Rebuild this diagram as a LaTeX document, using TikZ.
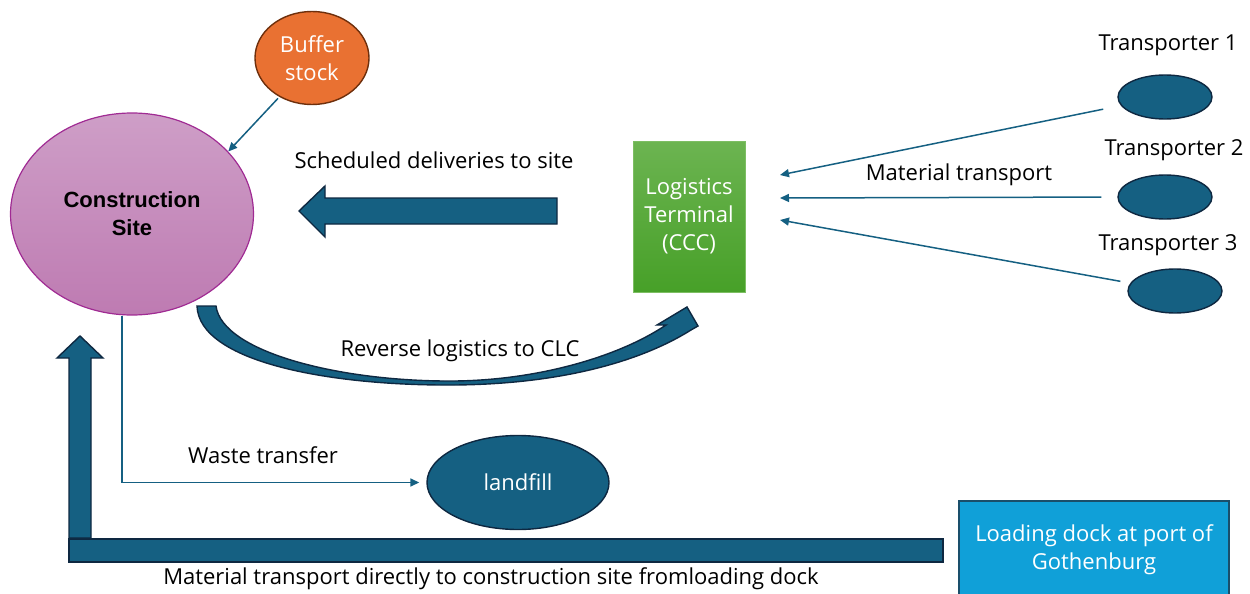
\documentclass[tikz,border=0pt]{standalone}
\usepackage{fontspec}
\setmainfont{Open Sans}
\newfontfamily\arialfont{Liberation Sans}
\usetikzlibrary{shapes.geometric,arrows.meta}
\definecolor{tealA}{HTML}{156082}
\definecolor{navyA}{HTML}{0E2841}
\definecolor{orangeA}{HTML}{E97132}
\definecolor{brownA}{HTML}{6E2F0C}
\definecolor{pinkTop}{HTML}{CE9EC7}
\definecolor{pinkBot}{HTML}{BE7BB2}
\definecolor{purpleA}{HTML}{A02B93}
\definecolor{greenTop}{HTML}{6CB451}
\definecolor{greenBot}{HTML}{47A028}
\definecolor{greenLine}{HTML}{7DBE63}
\definecolor{blueA}{HTML}{10A0D8}
\definecolor{blueLine}{HTML}{1A4F6B}
\begin{document}
\begin{tikzpicture}[x=0.5pt,y=-0.5pt,
  lbl/.style={font=\fontsize{11}{14}\selectfont, inner sep=0, text=black},
  wtxt/.style={font=\fontsize{11}{14}\selectfont, text=white, align=center},
  conn/.style={draw=tealA, line width=0.75pt, -{Triangle[length=4.5pt,width=4pt]}},
  blk/.style={fill=tealA, draw=navyA, line width=0.7pt, line join=miter},
  trans/.style={ellipse, fill=tealA, draw=navyA, line width=0.7pt, minimum width=47pt, minimum height=22pt, inner sep=0}]
\useasboundingbox (0,0) rectangle (1250,594);

% nodes
\node[ellipse, fill=orangeA, draw=brownA, line width=0.7pt, minimum width=57pt, minimum height=46.5pt, inner sep=0, wtxt] (buf) at (312,58) {Buffer\\stock};
\node[ellipse, top color=pinkTop, bottom color=pinkBot, draw=purpleA, line width=0.6pt, minimum width=121.5pt, minimum height=101pt, inner sep=0, align=center, font=\arialfont\bfseries\fontsize{11}{14}\selectfont] (site) at (132,214) {Construction\\Site};
\node[rectangle, top color=greenTop, bottom color=greenBot, draw=greenLine, line width=0.5pt, minimum width=56pt, minimum height=75.5pt, inner sep=0, wtxt] (lt) at (689,216.5) {Logistics\\Terminal\\(CCC)};
\node[trans] (t1) at (1165,97) {};
\node[trans] (t2) at (1165,197) {};
\node[trans] (t3) at (1175,291) {};
\node[ellipse, fill=tealA, draw=navyA, line width=0.7pt, minimum width=91pt, minimum height=47pt, inner sep=0, wtxt] (land) at (518,482.5) {landfill};
\node[rectangle, fill=blueA, draw=blueLine, line width=0.7pt, minimum width=135pt, minimum height=48.5pt, inner sep=0, wtxt] (dock) at (1094,549.5) {Loading dock at port of\\Gothenburg};

% labels
\node[lbl] (lsched) at (434,160) {Scheduled deliveries to site};
\node[lbl] (lmat) at (959,175) {Material transport};
\node[lbl] (lt1) at (1168,45) {Transporter 1};
\node[lbl] (lt2) at (1174,150) {Transporter 2};
\node[lbl] (lt3) at (1168,245) {Transporter 3};
\node[lbl] (lrev) at (460,351) {Reverse logistics to CLC};
\node[lbl] (lwaste) at (263,455) {Waste transfer};
\node[lbl] (lbot) at (491,579) {Material transport directly to construction site fromloading dock};

% block arrows
\draw[blk] (557,198) -- (325,198) -- (325,186) -- (299,211) -- (325,237) -- (325,224) -- (557,224) -- cycle;
\draw[blk] (69,539) rectangle (943,562);
\draw[blk] (69,538) -- (69,358) -- (57,358) -- (80,336) -- (103,358) -- (91,358) -- (91,538) -- cycle;
\draw[blk] (197,306) .. controls (199,362) and (330,386) .. (455,385)
  .. controls (560,384) and (640,362) .. (691,330)
  -- (698,326) -- (687,307) -- (657,325) -- (666,325)
  .. controls (620,356) and (540,380) .. (455,381)
  .. controls (340,382) and (222,352) .. (216,306) -- cycle;

% thin connectors
\draw[conn, shorten <=1pt] (buf.230) -- (site.33);
\coordinate (in1) at (780,175);
\coordinate (in2) at (780,198);
\coordinate (in3) at (780,220);
\draw[conn, shorten <=9pt] (t1.191) -- (in1);
\draw[conn, shorten <=8pt] (t2.west) -- (in2);
\draw[conn, shorten <=5pt] (t3.170) -- (in3);
\draw[conn, shorten >=3.5pt] ([xshift=-5pt]site.south) |- (land.west);
\end{tikzpicture}
\end{document}
